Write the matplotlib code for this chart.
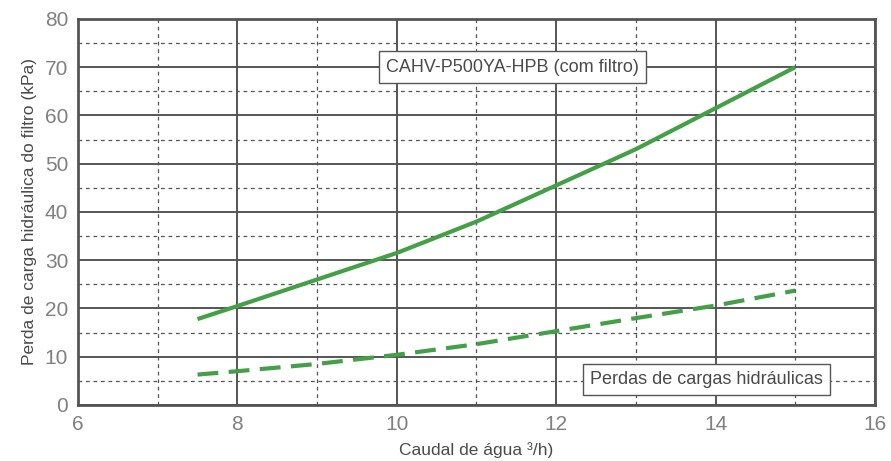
import matplotlib.pyplot as plt
from matplotlib.ticker import MultipleLocator

plt.rcParams['font.family'] = ['Liberation Sans', 'DejaVu Sans']

# caudal (m3/h) vs perda de carga (kPa)
flow = [7.5, 8, 9, 10, 11, 12, 13, 14, 15]
filtro = [17.8, 20.5, 26.0, 31.5, 38.0, 45.5, 53.0, 61.5, 70.0]
perdas = [6.3, 7.0, 8.5, 10.4, 12.6, 15.3, 18.0, 20.6, 23.7]

green = "#43a047"
frame = "#555555"

fig = plt.figure(figsize=(8.91, 4.61), dpi=100)
ax = fig.add_axes([0.0875, 0.1215, 0.8945, 0.8375])

ax.plot(flow, filtro, color=green, lw=3, solid_capstyle="butt", zorder=3)
ax.plot(flow, perdas, color=green, lw=3, ls=(0, (5, 2.5)), zorder=3)

ax.set_xlim(6, 16)
ax.set_ylim(0, 80)
ax.xaxis.set_major_locator(MultipleLocator(2))
ax.xaxis.set_minor_locator(MultipleLocator(1))
ax.yaxis.set_major_locator(MultipleLocator(10))
ax.yaxis.set_minor_locator(MultipleLocator(5))
ax.grid(which="major", color=frame, lw=1.4)
ax.grid(which="minor", color=frame, lw=0.9, ls=(0, (3, 3)))
ax.set_axisbelow(True)
ax.tick_params(which="both", length=0, labelsize=15, labelcolor="#808080", pad=7)
for s in ax.spines.values():
    s.set_color(frame)
    s.set_linewidth(2)

ax.set_xlabel("Caudal de água ³/h)", fontsize=12.5, color="#4a4a4a", labelpad=6)
ax.set_ylabel("Perda de carga hidráulica do filtro (kPa)", fontsize=12.5, color="#4a4a4a", labelpad=6)

box = dict(boxstyle="square,pad=0.4", fc="white", ec="#555555", lw=1)
ax.text(11.45, 70, "CAHV-P500YA-HPB (com filtro)", fontsize=13, color="#4a4a4a",
        ha="center", va="center", bbox=box, zorder=4)
ax.text(13.89, 5.3, "Perdas de cargas hidráulicas", fontsize=13, color="#4a4a4a",
        ha="center", va="center", bbox=box, zorder=4)

fig.savefig("out.png", dpi=100)
